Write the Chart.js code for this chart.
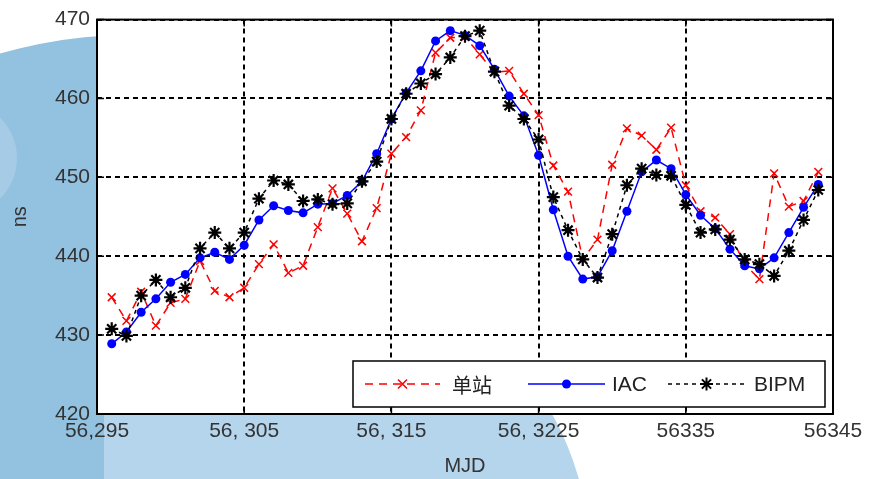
<!DOCTYPE html>
<html lang="zh">
<head>
<meta charset="UTF-8">
<title>单站 / IAC / BIPM</title>
<script src="https://cdn.jsdelivr.net/npm/chart.js"></script>
<style>
    body { margin: 0; background: #fff; }
    #wrap { width: 871px; height: 479px; }
</style>
</head>
<body>
<div id="wrap"><canvas id="c" width="871" height="479"></canvas></div>
<script>
// MJD (one point per day)
const mjd = [56296, 56297, 56298, 56299, 56300, 56301, 56302, 56303, 56304, 56305,
             56306, 56307, 56308, 56309, 56310, 56311, 56312, 56313, 56314, 56315,
             56316, 56317, 56318, 56319, 56320, 56321, 56322, 56323, 56324, 56325,
             56326, 56327, 56328, 56329, 56330, 56331, 56332, 56333, 56334, 56335,
             56336, 56337, 56338, 56339, 56340, 56341, 56342, 56343, 56344];

// 单站
const single = [434.8, 431.8, 435.5, 431.2, 434.1, 434.6, 439.4, 435.6, 434.8, 436.0,
                439.0, 441.5, 437.9, 438.8, 443.7, 448.6, 445.4, 441.9, 446.1, 453.0,
                455.1, 458.5, 465.8, 467.7, 467.8, 465.6, 463.3, 463.5, 460.6, 457.9,
                451.5, 448.2, 439.6, 442.1, 451.6, 456.2, 455.3, 453.5, 456.3, 449.0,
                445.7, 444.9, 442.8, 439.0, 437.1, 450.5, 446.3, 447.0, 450.7];

// IAC
const iac = [428.9, 430.4, 432.9, 434.6, 436.7, 437.7, 439.8, 440.5, 439.6, 441.4,
             444.6, 446.4, 445.8, 445.5, 446.6, 446.7, 447.7, 449.5, 453.0, 457.4,
             460.7, 463.5, 467.3, 468.6, 468.0, 466.7, 463.7, 460.3, 457.8, 452.8,
             445.9, 440.0, 437.1, 437.4, 440.7, 445.7, 450.7, 452.2, 451.1, 447.8,
             445.2, 443.5, 440.9, 438.8, 438.4, 439.8, 443.0, 446.2, 449.1];

// BIPM
const bipm = [430.8, 429.9, 435.0, 437.0, 434.8, 436.0, 441.0, 443.0, 441.0, 443.0,
              447.3, 449.6, 449.1, 447.0, 447.2, 446.6, 446.7, 449.5, 452.0, 457.4,
              460.6, 461.9, 463.1, 465.2, 467.9, 468.6, 463.4, 459.1, 457.4, 454.8,
              447.5, 443.3, 439.6, 437.3, 442.8, 449.0, 451.1, 450.3, 450.2, 446.5,
              443.0, 443.4, 442.1, 439.6, 439.0, 437.5, 440.7, 444.6, 448.4];

const xTickVals = [56295, 56305, 56315, 56325, 56335, 56345];
const xTickLabels = ['56,295', '56, 305', '56, 315', '56, 3225', '56335', '56345'];
const yTickVals = [420, 430, 440, 450, 460, 470];

const seriesNames = ['单站', 'IAC', 'BIPM'];
const seriesColors = ['#ff0000', '#0000ff', '#000000'];

const FONT = "'Liberation Sans', Arial, sans-serif";

function pts(arr) {
    return mjd.map((m, i) => ({ x: m, y: arr[i] }));
}

// slide-like background behind the axes
const background = {
    id: 'background',
    beforeDraw(chart) {
        const { ctx, chartArea: a } = chart;
        ctx.save();
        ctx.fillStyle = '#fff';
        ctx.fillRect(0, 0, chart.width, chart.height);

        ctx.fillStyle = '#b4d5ec';
        ctx.beginPath();
        ctx.arc(290, 560, 300, 0, Math.PI * 2);
        ctx.fill();

        ctx.save();
        ctx.beginPath();
        ctx.rect(0, 0, 104, chart.height);
        ctx.clip();
        ctx.fillStyle = '#93c1e0';
        ctx.beginPath();
        ctx.arc(130, 500, 465, 0, Math.PI * 2);
        ctx.fill();
        ctx.fillStyle = '#a6cbe6';
        ctx.beginPath();
        ctx.arc(-40, 158, 57, 0, Math.PI * 2);
        ctx.fill();
        ctx.restore();

        ctx.fillStyle = '#fff';
        ctx.fillRect(a.left, a.top, a.right - a.left, a.bottom - a.top);
        ctx.restore();
    }
};

function drawMarker(ctx, kind, x, y, color) {
    ctx.save();
    ctx.strokeStyle = color;
    ctx.fillStyle = color;
    ctx.setLineDash([]);
    if (kind === 'x') {
        ctx.lineWidth = 1.5;
        ctx.beginPath();
        ctx.moveTo(x - 4.5, y - 4.5); ctx.lineTo(x + 4.5, y + 4.5);
        ctx.moveTo(x - 4.5, y + 4.5); ctx.lineTo(x + 4.5, y - 4.5);
        ctx.stroke();
    } else if (kind === 'dot') {
        ctx.beginPath();
        ctx.arc(x, y, 4.5, 0, Math.PI * 2);
        ctx.fill();
    } else {
        ctx.lineWidth = 2;
        ctx.beginPath();
        for (let k = 0; k < 4; k++) {
            const ang = k * Math.PI / 4;
            ctx.moveTo(x - 6.5 * Math.cos(ang), y - 6.5 * Math.sin(ang));
            ctx.lineTo(x + 6.5 * Math.cos(ang), y + 6.5 * Math.sin(ang));
        }
        ctx.stroke();
    }
    ctx.restore();
}

// box legend inside the plot + frame with inward ticks (matlab look)
const frameLegend = {
    id: 'frameLegend',
    afterDraw(chart) {
        const { ctx, chartArea: a, scales } = chart;
        ctx.save();

        // legend box
        const bx = 353, by = 361, bw = 472, bh = 46;
        ctx.fillStyle = '#fff';
        ctx.fillRect(bx, by, bw, bh);
        ctx.strokeStyle = '#000';
        ctx.lineWidth = 1.5;
        ctx.strokeRect(bx, by, bw, bh);

        const cy = by + bh / 2;
        const items = [
            { x0: 365, x1: 440, dash: [8, 6], kind: 'x', tx: 452 },
            { x0: 528, x1: 605, dash: [], kind: 'dot', tx: 612 },
            { x0: 668, x1: 745, dash: [4, 4], kind: 'star', tx: 754 }
        ];
        items.forEach((it, i) => {
            ctx.strokeStyle = seriesColors[i];
            ctx.lineWidth = 1.5;
            ctx.setLineDash(it.dash);
            ctx.beginPath();
            ctx.moveTo(it.x0, cy);
            ctx.lineTo(it.x1, cy);
            ctx.stroke();
            ctx.setLineDash([]);
            drawMarker(ctx, it.kind, (it.x0 + it.x1) / 2, cy, seriesColors[i]);
            ctx.fillStyle = '#222';
            ctx.textBaseline = 'middle';
            ctx.textAlign = 'left';
            ctx.font = i === 0 ? "20px 'Noto Sans CJK SC', sans-serif" : '21px ' + FONT;
            ctx.fillText(seriesNames[i], it.tx, cy + 1);
        });

        // frame
        ctx.strokeStyle = '#000';
        ctx.lineWidth = 2;
        ctx.setLineDash([]);
        ctx.strokeRect(a.left, a.top, a.right - a.left, a.bottom - a.top);

        // inward ticks
        ctx.lineWidth = 1.5;
        ctx.beginPath();
        xTickVals.forEach(v => {
            const px = scales.x.getPixelForValue(v);
            ctx.moveTo(px, a.bottom); ctx.lineTo(px, a.bottom - 7);
            ctx.moveTo(px, a.top); ctx.lineTo(px, a.top + 7);
        });
        yTickVals.forEach(v => {
            const py = scales.y.getPixelForValue(v);
            ctx.moveTo(a.left, py); ctx.lineTo(a.left + 7, py);
            ctx.moveTo(a.right, py); ctx.lineTo(a.right - 7, py);
        });
        ctx.stroke();
        ctx.restore();
    }
};

new Chart(document.getElementById('c'), {
    type: 'line',
    data: {
        datasets: [
            {
                label: seriesNames[0],
                data: pts(single),
                borderColor: seriesColors[0],
                backgroundColor: seriesColors[0],
                borderWidth: 1.5,
                borderDash: [8, 6],
                pointStyle: 'crossRot',
                pointRadius: 5.5,
                pointBorderWidth: 1.5,
                order: 3
            },
            {
                label: seriesNames[1],
                data: pts(iac),
                borderColor: seriesColors[1],
                backgroundColor: seriesColors[1],
                borderWidth: 1.5,
                pointStyle: 'circle',
                pointRadius: 4.5,
                pointBorderWidth: 0,
                order: 2
            },
            {
                label: seriesNames[2],
                data: pts(bipm),
                borderColor: seriesColors[2],
                backgroundColor: seriesColors[2],
                borderWidth: 1.5,
                borderDash: [4, 4],
                pointStyle: 'star',
                pointRadius: 6.5,
                pointBorderWidth: 2.2,
                order: 1
            }
        ]
    },
    options: {
        responsive: false,
        animation: false,
        layout: { padding: { top: 17, right: 38, left: 0, bottom: 0 } },
        plugins: { legend: { display: false }, tooltip: { enabled: false } },
        elements: { line: { tension: 0 } },
        scales: {
            x: {
                type: 'linear',
                min: 56295,
                max: 56345,
                afterBuildTicks: s => { s.ticks = xTickVals.map(v => ({ value: v })); },
                afterFit: s => { s.height = 65; },
                ticks: {
                    callback: (v, i) => xTickLabels[i],
                    autoSkip: false,
                    maxRotation: 0,
                    padding: 5,
                    color: '#333',
                    font: { family: FONT, size: 21 }
                },
                grid: { color: '#000', lineWidth: 2, drawTicks: false },
                border: { display: false, dash: [5, 4] },
                title: {
                    display: true,
                    text: 'MJD',
                    color: '#333',
                    font: { family: FONT, size: 20 },
                    padding: { top: 0, bottom: 1 }
                }
            },
            y: {
                min: 420,
                max: 470,
                afterBuildTicks: s => { s.ticks = yTickVals.map(v => ({ value: v })); },
                afterFit: s => { s.width = 97; },
                ticks: {
                    padding: 7,
                    color: '#333',
                    font: { family: FONT, size: 21 }
                },
                grid: { color: '#000', lineWidth: 2, drawTicks: false },
                border: { display: false, dash: [5, 4] },
                title: {
                    display: true,
                    text: 'ns',
                    color: '#333',
                    font: { family: FONT, size: 20 },
                    padding: { top: 8, bottom: 0 }
                }
            }
        }
    },
    plugins: [background, frameLegend]
});
</script>
</body>
</html>
